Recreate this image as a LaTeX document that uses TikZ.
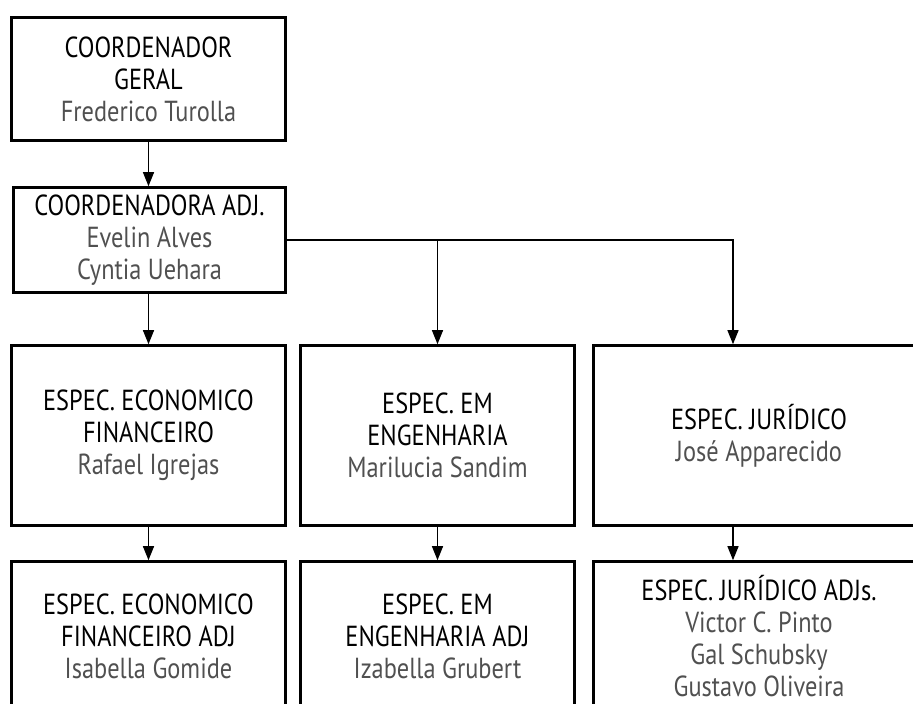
\documentclass[tikz,border=0pt]{standalone}
\usepackage{fontspec}
\setmainfont{PT Sans}[FakeStretch=0.84]
\usetikzlibrary{arrows.meta}

\definecolor{nomecinza}{RGB}{80,80,80}
\newcommand{\nome}[1]{\textcolor{nomecinza}{#1}}

\tikzset{
  cargo/.style={draw, line width=2.6pt, align=center, inner sep=0pt,
    node font=\fontsize{29}{32}\selectfont},
  liga/.style={line width=1.3pt, -{Triangle[width=11pt,length=14pt]}}
}

\begin{document}
\begin{tikzpicture}[x=1pt, y=-1pt]
% quadro da figura (as caixas da direita e de baixo saem fora)
\useasboundingbox (0,0) rectangle (913,704);
\clip (0,0) rectangle (913,704);

\def\w{274} % largura das caixas
\def\hlin{180} % altura da linha do meio

% coordenacao
\node[cargo, minimum width=\w, minimum height=123] (geral) at (148.5,79)
  {COORDENADOR\\GERAL\\\nome{Frederico Turolla}};
\node[cargo, minimum width=272, minimum height=105] (adj) at (149.5,240)
  {COORDENADORA ADJ.\\\nome{Evelin Alves}\\\nome{Cyntia Uehara}};

% especialistas
\node[cargo, minimum width=\w, minimum height=\hlin] (econ) at (148.5,435.5)
  {ESPEC. ECONOMICO\\FINANCEIRO\\\nome{Rafael Igrejas}};
\node[cargo, minimum width=\w, minimum height=\hlin] (eng) at (437.5,435.5)
  {ESPEC. EM\\ENGENHARIA\\\nome{Marilucia Sandim}};
\node[cargo, minimum width=331, minimum height=\hlin] (jur) at (759,435.5)
  {ESPEC. JURÍDICO\\\nome{José Apparecido}};

% adjuntos
\node[cargo, minimum width=\w, minimum height=150] (econadj) at (148.5,636.5)
  {ESPEC. ECONOMICO\\FINANCEIRO ADJ\\\nome{Isabella Gomide}};
\node[cargo, minimum width=\w, minimum height=150] (engadj) at (437.5,636.5)
  {ESPEC. EM\\ENGENHARIA ADJ\\\nome{Izabella Grubert}};
\node[cargo, minimum width=331, minimum height=150] (juradj) at (759,636.5)
  {ESPEC. JURÍDICO ADJs.\\\nome{Victor C. Pinto}\\\nome{Gal Schubsky}\\\nome{Gustavo Oliveira}};

% pontos de entrada da coluna juridica
\coordinate (jurin) at ([xshift=-26pt]jur.north);
\coordinate (jurout) at ([xshift=-26pt]jur.south);
\coordinate (juradjin) at ([xshift=-26pt]juradj.north);

% ligacoes
\draw[liga] (geral.south) -- (geral.south |- adj.north);
\draw[liga] (econ.north |- adj.south) -- (econ.north);
\draw[liga] (adj.east) -| (eng.north);
\draw[liga] (adj.east) -| (jurin);
\draw[liga] (econ.south) -- (econadj.north);
\draw[liga] (eng.south) -- (engadj.north);
\draw[liga] (jurout) -- (juradjin);
\end{tikzpicture}
\end{document}
